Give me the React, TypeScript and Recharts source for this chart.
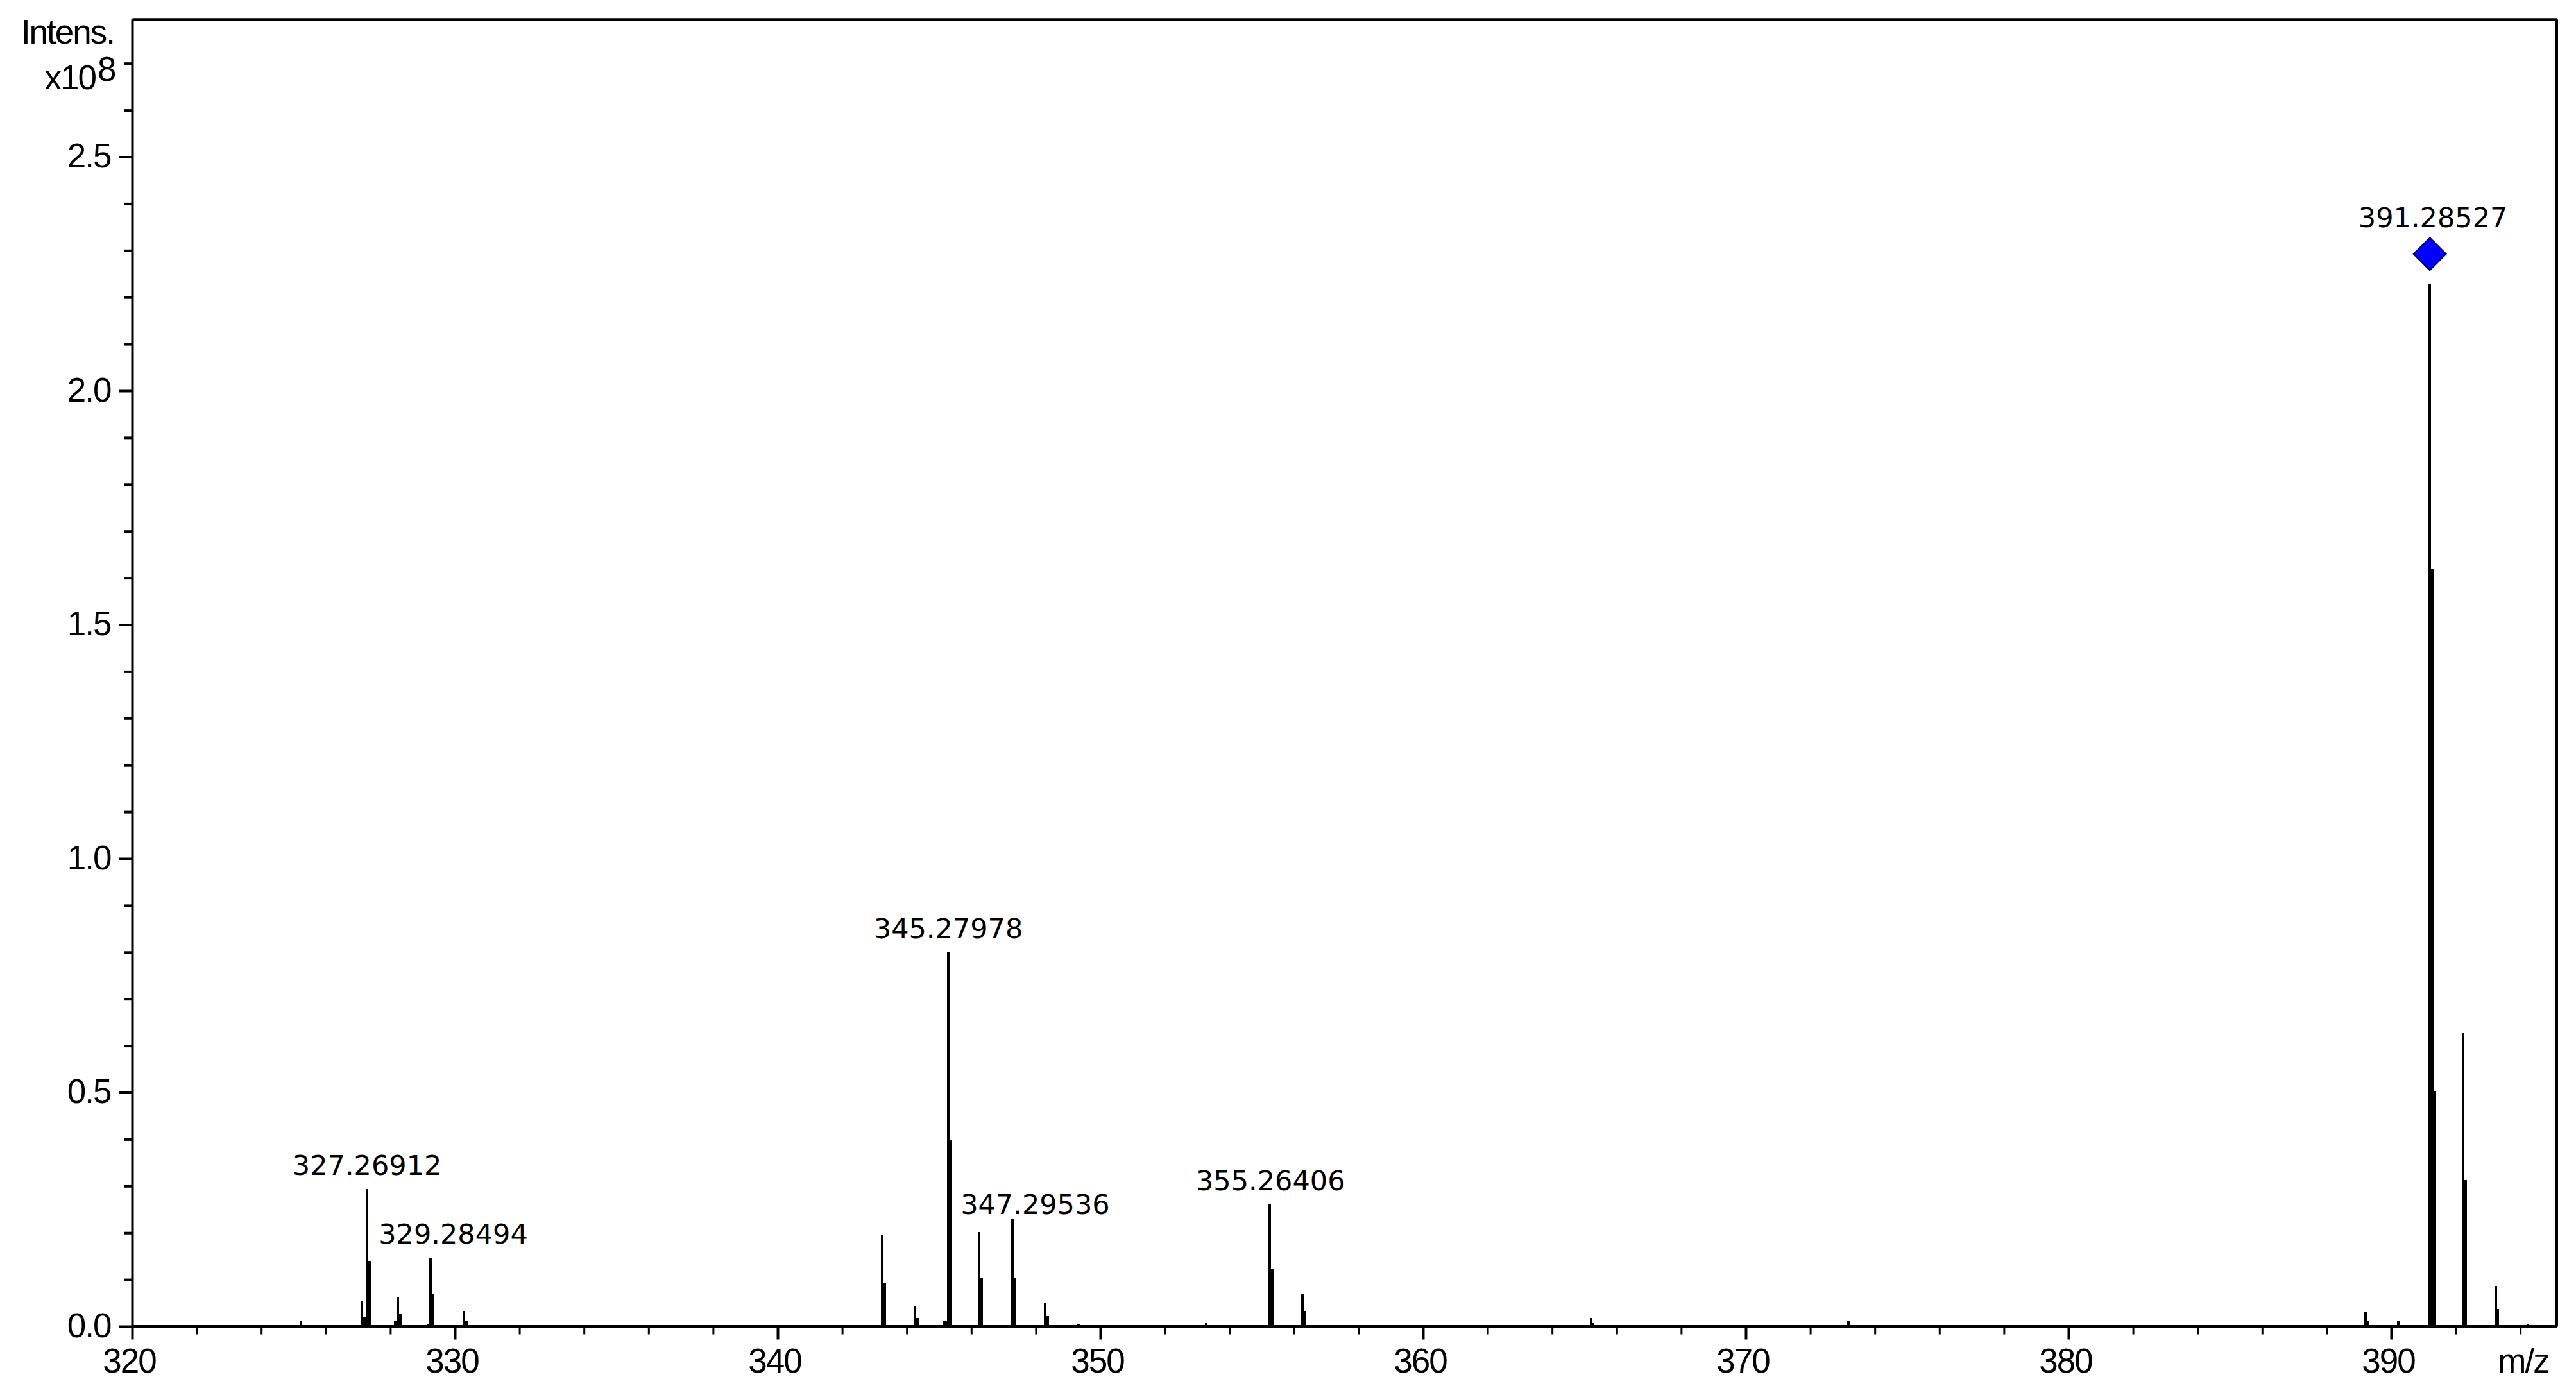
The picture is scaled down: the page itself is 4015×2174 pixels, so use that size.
import React from 'react';
import { ComposedChart, Bar, Scatter, XAxis, YAxis, ReferenceLine } from 'recharts';

// Profile samples of the spectrum (m/z, intensity in units of 1e8)
const profileMz = [
  325.21,
  327.11, 327.18, 327.26, 327.34,
  328.14, 328.22, 328.30,
  329.17, 329.24, 329.31,
  330.27, 330.34,
  343.23, 343.31,
  344.25, 344.32,
  345.13, 345.20, 345.28, 345.35,
  346.23, 346.31,
  347.26, 347.32,
  348.28, 348.36,
  349.31,
  353.27,
  355.23, 355.31,
  356.26, 356.33,
  365.19, 365.26,
  373.17,
  389.19, 389.26,
  390.21,
  391.19, 391.27, 391.35,
  392.21, 392.29,
  393.23, 393.30,
  394.22,
];
const profileIntensity = [
  0.011,
  0.054, 0.021, 0.294, 0.141,
  0.011, 0.064, 0.027,
  0.005, 0.147, 0.070,
  0.033, 0.011,
  0.196, 0.094,
  0.045, 0.018,
  0.013, 0.013, 0.800, 0.398,
  0.203, 0.104,
  0.230, 0.104,
  0.050, 0.023,
  0.006,
  0.007,
  0.261, 0.124,
  0.070, 0.033,
  0.018, 0.007,
  0.012,
  0.032, 0.012,
  0.012,
  2.230, 1.621, 0.504,
  0.627, 0.314,
  0.087, 0.038,
  0.006,
];

// Annotated peaks
const peakLabelMz = [327.26912, 329.28494, 345.27978, 347.29536, 355.26406, 391.28527];
const peakLabelIntensity = [0.294, 0.147, 0.800, 0.230, 0.261, 2.230];
const precursorMz = 391.28527;

// Axes
const xTicks = [320, 322, 324, 326, 328, 330, 332, 334, 336, 338, 340, 342, 344, 346, 348, 350, 352, 354, 356, 358, 360, 362, 364, 366, 368, 370, 372, 374, 376, 378, 380, 382, 384, 386, 388, 390, 392, 394];
const xTickLabels = ['320', '330', '340', '350', '360', '370', '380', '390'];
const yTicks = [0, 0.1, 0.2, 0.3, 0.4, 0.5, 0.6, 0.7, 0.8, 0.9, 1.0, 1.1, 1.2, 1.3, 1.4, 1.5, 1.6, 1.7, 1.8, 1.9, 2.0, 2.1, 2.2, 2.3, 2.4, 2.5, 2.6, 2.7];
const yTickLabels = ['0.0', '0.5', '1.0', '1.5', '2.0', '2.5'];
const X_DOMAIN: [number, number] = [320, 395.12];
const Y_DOMAIN: [number, number] = [0, 2.7945];

// Style-only offsets for labels that were moved aside to avoid collisions
const LABEL_OFFSETS: Record<string, { dx: number; dy: number }> = {
  '329.28494': { dx: 33, dy: 0 },
  '347.29536': { dx: 34, dy: 14 },
};
const PRECURSOR_MARK_DX = -5;

const spectrum = profileMz.map((mz, i) => ({ mz, intensity: profileIntensity[i] }));
const annotations = peakLabelMz.map((mz, i) => ({ mz, intensity: peakLabelIntensity[i], text: mz.toFixed(5) }));

const AXIS_FONT = '"Liberation Sans", Arial, sans-serif';
const LABEL_FONT = '"DejaVu Sans", Verdana, sans-serif';

const Column = (props: any) => {
  const { x, y, width, height } = props;
  if (height == null || height <= 0 || x == null) return null;
  const cx = x + width / 2;
  return <rect x={cx - 2} y={y} width={4} height={height} fill="#000" shapeRendering="crispEdges" />;
};

const Annotation = (props: any) => {
  const { cx, cy, payload } = props;
  if (cx == null || cy == null) return null;
  const off = LABEL_OFFSETS[payload.text] || { dx: 0, dy: 0 };
  const isPrec = payload.mz === precursorMz;
  const s = 25.5;
  const dcx = cx + PRECURSOR_MARK_DX;
  const dcy = cy - 46;
  return (
    <g>
      {isPrec && (
        <polygon
          points={`${dcx},${dcy - s} ${dcx + s},${dcy} ${dcx},${dcy + s} ${dcx - s},${dcy}`}
          fill="#0000ff"
          stroke="#00006e"
          strokeWidth={2}
        />
      )}
      <text
        x={cx + off.dx}
        y={(isPrec ? cy - 88 : cy - 22) + off.dy}
        textAnchor="middle"
        fontFamily={LABEL_FONT}
        fontSize={43}
        fill="#000"
      >
        {payload.text}
      </text>
    </g>
  );
};

const XTick = (props: any) => {
  const { x, y, payload } = props;
  const v = payload.value;
  const label = xTickLabels.find((t) => Number(t) === v);
  const major = label !== undefined;
  return (
    <g>
      <line x1={x} x2={x} y1={y} y2={y + (major ? 20 : 12)} stroke="#000" strokeWidth={major ? 4 : 3} />
      {major && (
        <text x={x - 5} y={y + 71.5} textAnchor="middle" fontFamily={AXIS_FONT} fontSize={53} letterSpacing={-2} fill="#000">
          {label}
        </text>
      )}
    </g>
  );
};

const YTick = (props: any) => {
  const { x, y, payload } = props;
  const v = payload.value;
  const label = yTickLabels.find((t) => Math.abs(Number(t) - v) < 1e-6);
  const major = label !== undefined;
  return (
    <g>
      <line x1={x - (major ? 21 : 13)} x2={x} y1={y} y2={y} stroke="#000" strokeWidth={4} />
      {major && (
        <text x={x - 34} y={y + 16.5} textAnchor="end" fontFamily={AXIS_FONT} fontSize={53} letterSpacing={-2} fill="#000">
          {label}
        </text>
      )}
    </g>
  );
};

const YTitle = (props: any) => {
  const vb = props.viewBox || { x: 0, y: 30.3, width: 206.5 };
  const right = vb.x + vb.width;
  return (
    <g fontFamily={AXIS_FONT} fill="#000">
      <text x={right - 28.5} y={vb.y + 38} textAnchor="end" fontSize={53} letterSpacing={-2}>Intens.</text>
      <text x={right - 57.5} y={vb.y + 109} textAnchor="end" fontSize={53} letterSpacing={-2}>x10</text>
      <text x={right - 54.5} y={vb.y + 96} textAnchor="start" fontSize={53}>8</text>
    </g>
  );
};

const XTitle = (props: any) => {
  const vb = props.viewBox || { x: 206.5, y: 2067.5, width: 3778.5 };
  return (
    <text
      x={vb.x + vb.width - 52}
      y={vb.y + 71.5}
      textAnchor="middle"
      fontFamily={AXIS_FONT}
      fontSize={53}
      letterSpacing={-2}
      fill="#000"
    >
      m/z
    </text>
  );
};

export default function App() {
  return (
    <div style={{ position: 'absolute', left: 0, top: 0, width: 4015, height: 2174, background: '#fff' }}>
      <ComposedChart
        width={4015}
        height={2174}
        data={spectrum}
        margin={{ top: 30.3, right: 30, left: 0, bottom: 0 }}
        barGap={0}
        barCategoryGap={0}
      >
        <XAxis
          dataKey="mz"
          type="number"
          domain={X_DOMAIN}
          ticks={xTicks}
          interval={0}
          tickSize={0}
          tickMargin={0}
          tickLine={false}
          tick={<XTick />}
          height={106.5}
          axisLine={{ stroke: '#000', strokeWidth: 5 }}
          allowDataOverflow
          label={<XTitle />}
        />
        <YAxis
          type="number"
          domain={Y_DOMAIN}
          ticks={yTicks}
          interval={0}
          tickSize={0}
          tickMargin={0}
          tickLine={false}
          tick={<YTick />}
          width={206.5}
          axisLine={{ stroke: '#000', strokeWidth: 4 }}
          allowDataOverflow
          label={<YTitle />}
        />
        <ReferenceLine y={Y_DOMAIN[1]} stroke="#000" strokeWidth={4} />
        <ReferenceLine x={X_DOMAIN[1]} stroke="#000" strokeWidth={4} />
        <Bar dataKey="intensity" barSize={4} shape={<Column />} isAnimationActive={false} />
        <Scatter data={annotations} dataKey="intensity" shape={<Annotation />} isAnimationActive={false} />
      </ComposedChart>
    </div>
  );
}
